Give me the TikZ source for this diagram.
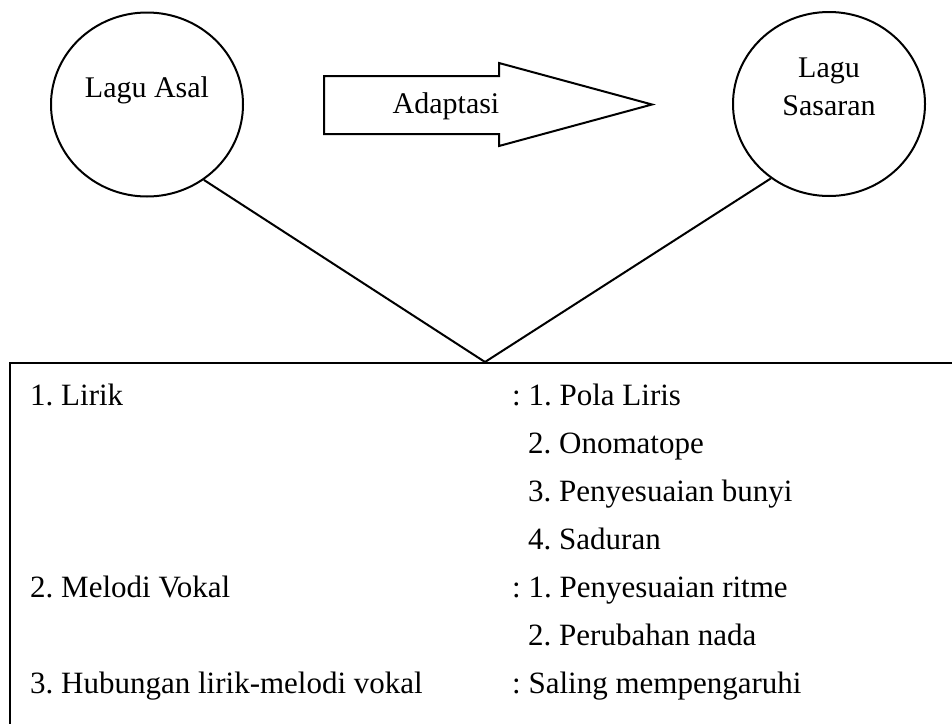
\documentclass[tikz,border=0pt]{standalone}
\usepackage{fontspec}
\setmainfont{Liberation Serif}
\usetikzlibrary{shapes.geometric}
\frenchspacing
\begin{document}
\begin{tikzpicture}[x=1pt,y=-1pt,
  ln/.style={line width=2pt, line join=miter},
  circ/.style={ellipse, draw, line width=2pt, minimum width=192pt, minimum height=184pt, inner sep=0pt},
  ttl/.style={inner sep=0pt, anchor=base, font=\fontsize{30pt}{36pt}\selectfont},
  itm/.style={inner sep=0pt, anchor=base west, font=\fontsize{31pt}{37pt}\selectfont}]
\useasboundingbox (0,0) rectangle (952,723);
\clip (0,0) rectangle (952,723);
% circles
\node[circ] (lc) at (147,104.5) {};
\node[circ] (rc) at (829,104) {};
\node[ttl] (lt) at (147,97) {Lagu Asal};
\node[ttl] (rt1) at (829,77) {Lagu};
\node[ttl] (rt2) at (829,115) {Sasaran};
% block arrow
\draw[ln] (324,76) -- (499,76) -- (499,63) -- (652,104.5) -- (499,146) -- (499,134) -- (324,134) -- cycle;
\node[ttl] (ad) at (446,113) {Adaptasi};
% box
\node[draw, line width=2pt, anchor=north west, minimum width=1000pt, minimum height=420pt, inner sep=0pt] (box) at (9,362) {};
\coordinate (apex) at (485,362);
\draw[ln] (lc.-53.4) -- (apex);
\draw[ln] (rc.232.3) -- (apex);
% left column
\node[itm] (l1) at (30,405) {1. Lirik};
\node[itm] (l2) at (30,597) {2. Melodi Vokal};
\node[itm] (l3) at (30,693) {3. Hubungan lirik-melodi vokal};
% right column
\node[itm] (r1) at (512,405) {: 1. Pola Liris};
\node[itm] (r2) at (528,453) {2. Onomatope};
\node[itm] (r3) at (528,501) {3. Penyesuaian bunyi};
\node[itm] (r4) at (528,549) {4. Saduran};
\node[itm] (r5) at (512,597) {: 1. Penyesuaian ritme};
\node[itm] (r6) at (528,645) {2. Perubahan nada};
\node[itm] (r7) at (512,693) {: Saling mempengaruhi};
\end{tikzpicture}
\end{document}
